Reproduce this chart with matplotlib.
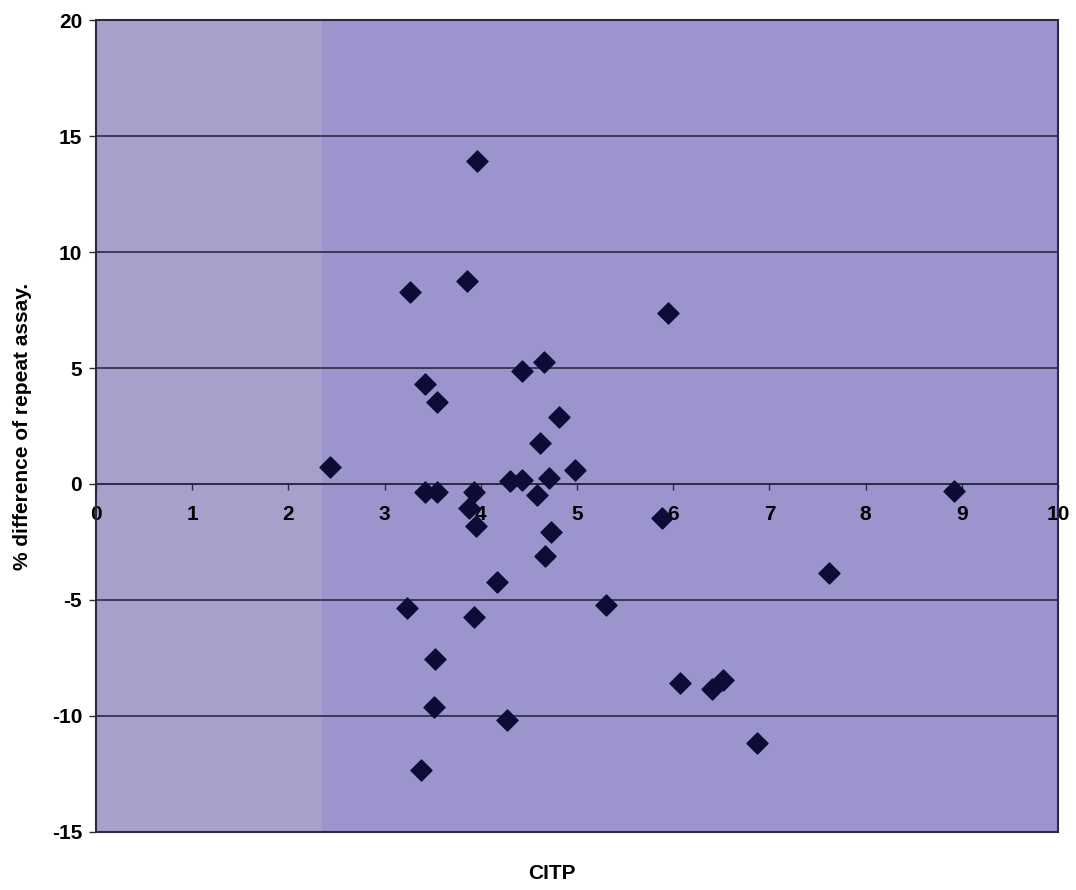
import matplotlib
matplotlib.use('Agg')
import matplotlib.pyplot as plt
from matplotlib.patches import Rectangle

# CITP value vs % difference of repeat assay
citp = [3.96, 3.26, 3.86, 5.95, 3.42, 3.54, 4.43, 4.66, 4.81, 4.62,
        2.43, 4.98, 4.30, 4.43, 4.71, 3.42, 3.54, 3.93, 4.58, 3.88,
        3.95, 5.88, 4.73, 4.67, 4.17, 3.23, 3.93, 5.30, 3.52, 3.51,
        4.27, 3.38, 6.07, 6.40, 6.52, 6.87, 7.62, 8.92]
pct_diff = [13.92, 8.28, 8.75, 7.37, 4.31, 3.53, 4.87, 5.26, 2.89, 1.77,
            0.73, 0.60, 0.13, 0.17, 0.26, -0.34, -0.34, -0.34, -0.47, -1.04,
            -1.81, -1.48, -2.06, -3.10, -4.22, -5.36, -5.72, -5.21, -7.54, -9.60,
            -10.17, -12.33, -8.59, -8.84, -8.45, -11.16, -3.84, -0.30]

x_ticks = list(range(0, 11))
y_ticks = [-15, -10, -5, 0, 5, 10, 15, 20]

plt.rcParams['font.family'] = ['Liberation Sans', 'DejaVu Sans']
plt.rcParams['font.weight'] = 'bold'
plt.rcParams['axes.unicode_minus'] = False

fig = plt.figure(figsize=(10.76, 8.9), dpi=100)
ax = fig.add_axes([0.0892, 0.0652, 0.8941, 0.9123])
ax.set_facecolor('#9c95cd')
# slightly lighter band on the left of the scan
ax.axvspan(0, 2.35, color='#a6a1cb', lw=0, zorder=0)

ax.set_xlim(0, 10)
ax.set_ylim(-15, 20)

for y in y_ticks:
    ax.axhline(y, color='#2e2842', lw=1.2, zorder=1)

ax.scatter(citp, pct_diff, marker='D', s=115, color='#0c0c36',
           edgecolors='#0c0c36', zorder=3)

# x axis crosses at zero
for s in ['top', 'right', 'left']:
    ax.spines[s].set_visible(False)
ax.spines['bottom'].set_position(('data', 0))
ax.spines['bottom'].set_color('#2e2842')
ax.spines['bottom'].set_linewidth(1.2)
ax.add_patch(Rectangle((0, 0), 1, 1, transform=ax.transAxes, fill=False,
                       ec='#2e2842', lw=1.5, zorder=4, clip_on=False))

ax.set_xticks(x_ticks)
ax.set_yticks(y_ticks)
ax.tick_params(axis='x', direction='out', length=4, width=1, color='#2e2842',
               pad=11, labelsize=15)
ax.tick_params(axis='y', direction='out', length=5, width=1, color='#2e2842',
               pad=5, labelsize=15)

ax.set_ylabel('% difference of repeat assay.', fontsize=15, fontweight='bold', labelpad=14)
fig.text(0.513, 0.012, 'CITP', fontsize=15, fontweight='bold', ha='center')

fig.savefig('out.png', dpi=100)
